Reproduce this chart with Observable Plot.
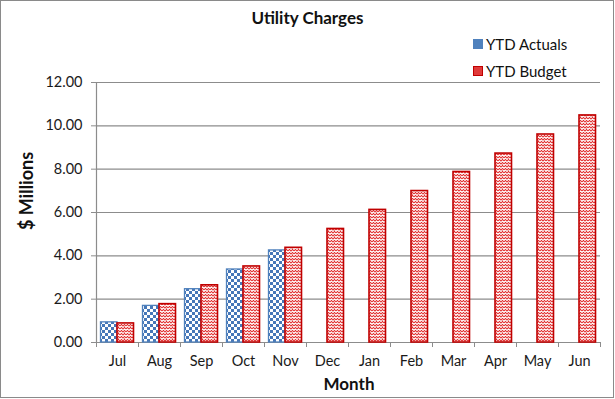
<!DOCTYPE html>
<html>
<head>
<meta charset="utf-8">
<script src="https://cdn.jsdelivr.net/npm/d3@7"></script>
<script src="https://cdn.jsdelivr.net/npm/@observablehq/plot@0.6"></script>
<style>
  html, body { margin: 0; padding: 0; background: #fff; }
  #wrap { position: relative; width: 615px; height: 399px; font-family: Lato, "Open Sans", sans-serif; overflow: hidden; }
  #border { position: absolute; left: 0; top: 0; width: 612px; height: 396px; border: 1px solid #8a8a8a; box-sizing: content-box; pointer-events: none; }
  #title { position: absolute; left: 0; width: 615px; top: 7px; text-align: center; font-weight: bold; font-size: 17px; color: #111; }
  .leg { position: absolute; left: 473px; font-size: 15px; color: #111; display: flex; align-items: center; }
  .sw { width: 8px; height: 8px; margin-right: 3px; }
  #ylab { position: absolute; left: 26px; top: 191px; transform: translate(-50%, -50%) rotate(-90deg); font-weight: bold; font-size: 18px; color: #111; white-space: nowrap; }
  #xlab { position: absolute; left: 349px; top: 383px; transform: translate(-50%, -50%); font-weight: bold; font-size: 17px; color: #111; }
  #chart { position: absolute; left: 0; top: 0; }
</style>
</head>
<body>
<div id="wrap">
  <div id="chart"></div>
  <div id="title">Utility Charges</div>
  <div class="leg" style="top:35px"><div class="sw" style="background:#4f81bd;border:1px solid #4f81bd"></div>YTD Actuals</div>
  <div class="leg" style="top:62px"><div class="sw" style="background:#e03a3a;border:1px solid #c00000"></div>YTD Budget</div>
  <div id="ylab">$ Millions</div>
  <div id="xlab">Month</div>
  <div id="border"></div>
</div>
<script>
const months = ["Jul","Aug","Sep","Oct","Nov","Dec","Jan","Feb","Mar","Apr","May","Jun"];
const actuals = [0.93, 1.69, 2.46, 3.37, 4.25];
const budget = [0.88, 1.77, 2.64, 3.51, 4.37, 5.24, 6.12, 6.99, 7.87, 8.72, 9.6, 10.48];
const yTicks = [0, 2, 4, 6, 8, 10, 12];

const actualRows = actuals.map((v, i) => ({month: months[i], value: v}));
const budgetRows = budget.map((v, i) => ({month: months[i], value: v}));

const svg = Plot.plot({
  width: 615,
  height: 399,
  marginLeft: 96,
  marginRight: 15,
  marginTop: 82,
  marginBottom: 57,
  style: {fontFamily: "Lato, 'Open Sans', sans-serif", fontSize: "14.5px", color: "#1a1a1a", background: "transparent"},
  x: {domain: months, padding: 0, label: null},
  y: {domain: [0, 12], label: null},
  marks: [
    Plot.gridY(yTicks, {stroke: "#8c8c8c", strokeOpacity: 1, strokeWidth: 1.2}),
    Plot.ruleX([months[0]], {dx: -21, y1: 0, y2: 12, stroke: "#8c8c8c", strokeWidth: 1.2}),
    Plot.axisY(yTicks, {tickFormat: d => d.toFixed(2), tickSize: 5, tickPadding: 9, stroke: "#8c8c8c", label: null, fontSize: 14.5}),
    Plot.axisX(months, {tickSize: 5, dx: -21, tickFormat: () => "", stroke: "#8c8c8c", label: null}),
    Plot.axisX([months[months.length - 1]], {tickSize: 5, dx: 21, tickFormat: () => "", stroke: "#8c8c8c", label: null}),
    Plot.axisX(months, {tickSize: 0, tickPadding: 13, label: null, fontSize: 14.5}),
    Plot.barY(actualRows, {x: "month", y: "value", fill: "url(#checker)", stroke: "#4f81bd", strokeWidth: 1.3, insetLeft: 4.5, insetRight: 21}),
    Plot.barY(budgetRows, {x: "month", y: "value", fill: "url(#weave)", stroke: "#c00000", strokeWidth: 1.6, insetLeft: 21, insetRight: 4.5})
  ]
});

const defs = d3.select(svg).insert("defs", ":first-child");
const ck = defs.append("pattern").attr("id", "checker").attr("patternUnits", "userSpaceOnUse").attr("width", 6).attr("height", 6);
ck.append("rect").attr("width", 6).attr("height", 6).attr("fill", "#ffffff");
ck.append("rect").attr("width", 3).attr("height", 3).attr("fill", "#4677b8");
ck.append("rect").attr("x", 3).attr("y", 3).attr("width", 3).attr("height", 3).attr("fill", "#4677b8");
const wv = defs.append("pattern").attr("id", "weave").attr("patternUnits", "userSpaceOnUse").attr("width", 6).attr("height", 6);
wv.append("rect").attr("width", 6).attr("height", 6).attr("fill", "#ffffff");
wv.append("path").attr("d", "M0,2 L1.5,0.5 L3,2 L4.5,0.5 L6,2 M0,5 L1.5,3.5 L3,5 L4.5,3.5 L6,5 M1.5,0.5 L1.5,-0.5 M4.5,3.5 L4.5,2.5")
  .attr("fill", "none").attr("stroke", "#e02828").attr("stroke-width", 1.05);

document.getElementById("chart").appendChild(svg);
</script>
</body>
</html>
